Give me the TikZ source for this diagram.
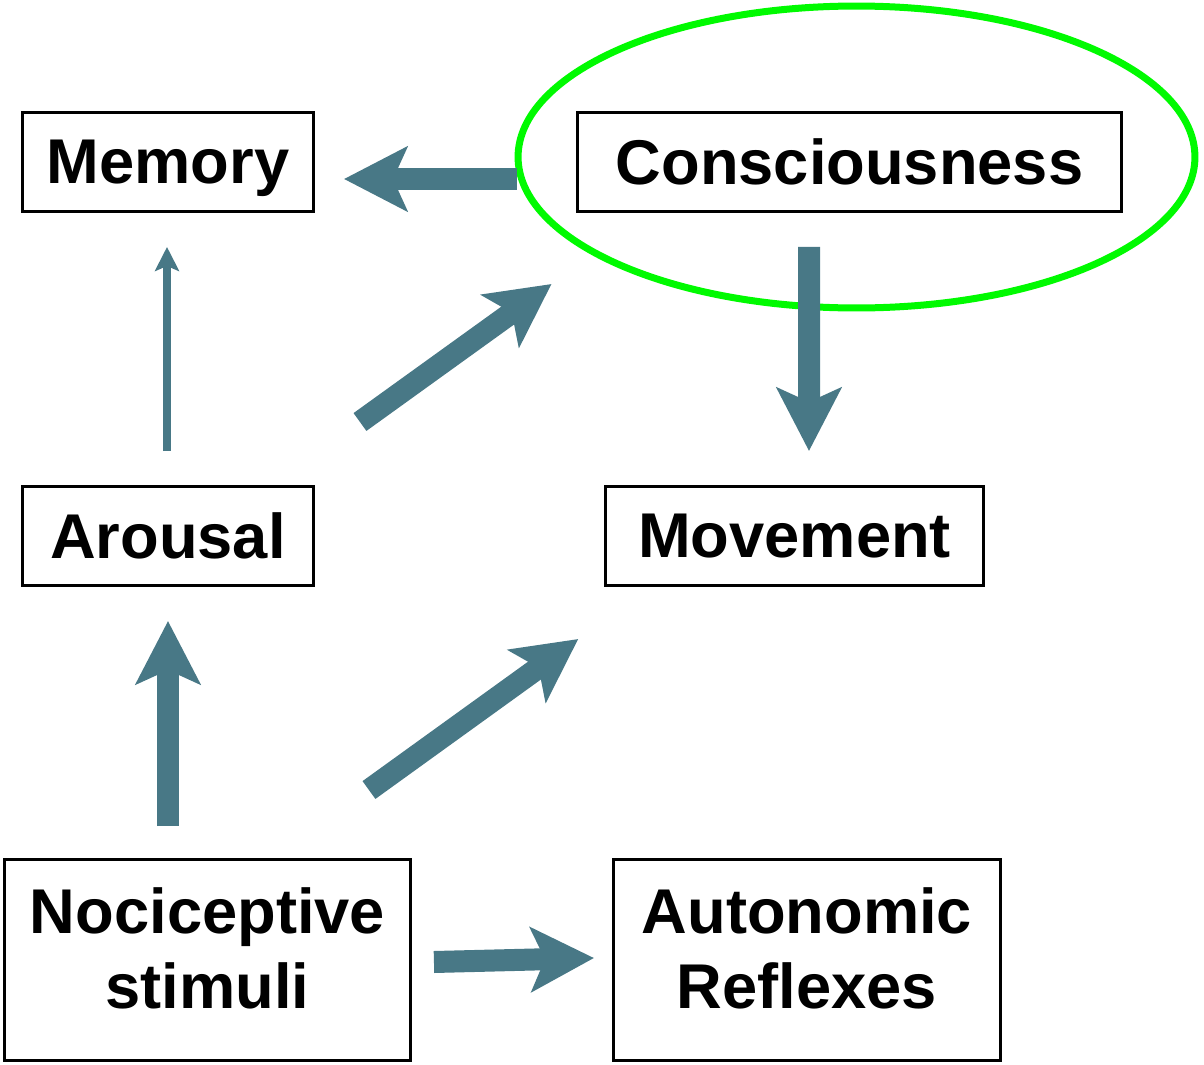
\documentclass[tikz,border=0pt]{standalone}
\usepackage{fontspec}
\setmainfont{Liberation Sans}
\usepackage{tikz}
\usetikzlibrary{calc, arrows.meta}
\definecolor{ArrowColour}{RGB}{72,120,134}
\definecolor{RingGreen}{RGB}{0,250,0}

\begin{document}
\begin{tikzpicture}[x=0.02cm, y=-0.02cm,
    font=\fontsize{36}{43}\selectfont\bfseries,
    box/.style={draw, line width=0.06cm, inner sep=0pt, align=center, minimum height=1.98cm, text depth=0pt},
    bigbox/.style={box, minimum height=4.02cm, text depth=0.48cm},
    fat/.style={ArrowColour, line width=0.44cm, -{Stealth[length=1.26cm, width=1.28cm, inset=0.28cm]}},
    thin/.style={ArrowColour, line width=0.16cm, -{Stealth[length=0.48cm, width=0.48cm, inset=0.1cm]}}]
  \useasboundingbox (0,0) rectangle (1204,1065);

  \node[box, minimum width=5.82cm] (memory) at (168,162) {Memory};
  \node[box, minimum width=10.9cm] (consc) at (849.5,162) {Consciousness};
  \node[box, minimum width=5.82cm] (arousal) at (168,536) {Arousal};
  \node[box, minimum width=7.55cm] (movement) at (794.5,536) {Movement};
  \node[bigbox, minimum width=8.12cm] (noci) at (207.5,960) {Nociceptive\\stimuli};
  \node[bigbox, minimum width=7.74cm] (auto) at (807,960) {Autonomic\\Reflexes};

  % ring round consciousness
  \draw[RingGreen, line width=0.14cm] (856.5,157) ellipse [x radius=6.77cm, y radius=3.02cm];

  \draw[fat] ($(consc.west)+(-59,17)$) -- ($(memory.east)+(29,17)$);
  \draw[thin] ($(arousal.north)+(-1,-34)$) -- ($(memory.south)+(-1,34)$);
  \draw[fat] ($(arousal.north east)+(45,-63)$) -- ($(consc.south west)+(-24,71)$);
  \draw[fat] ($(consc.south)+(-40.5,34)$) -- ($(movement.north)+(14.5,-34)$);
  \draw[fat] ($(noci.north)+(-39.5,-32)$) -- ($(arousal.south)+(0,34)$);
  \draw[fat] ($(noci.north east)+(-43,-68)$) -- ($(movement.south west)+(-26,52)$);
  \draw[fat] ($(noci.east)+(22,2)$) -- ($(auto.west)+(-18,-2)$);
\end{tikzpicture}
\end{document}
